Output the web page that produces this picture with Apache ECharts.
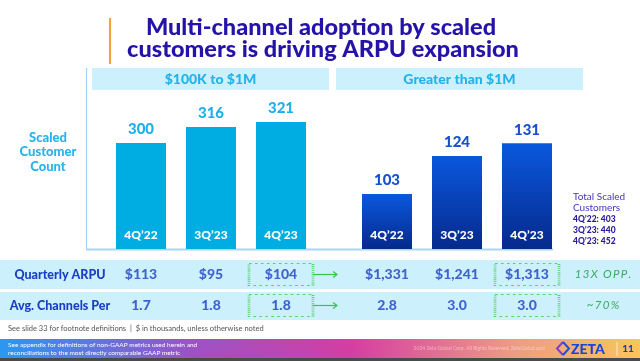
<!DOCTYPE html>
<html><head><meta charset="utf-8">
<script src="https://cdn.jsdelivr.net/npm/echarts@6/dist/echarts.min.js"></script>
<style>html,body{margin:0;padding:0;background:#fff}#c{width:640px;height:361px}</style>
</head><body><div id="c"></div>
<script>
const quarters = ['4Q’22', '3Q’23', '4Q’23'];
const midCustomers = [300, 316, 321];
const largeCustomers = [103, 124, 131];
const groupTitles = ['$100K to $1M', 'Greater than $1M'];
const tableRows = ['Quarterly ARPU', 'Avg. Channels Per'];
const midArpu = [113, 95, 104];
const largeArpu = [1331, 1241, 1313];
const midChannels = [1.7, 1.8, 1.8];
const largeChannels = [2.8, 3.0, 3.0];
const totalScaled = [403, 440, 452];
const rowNotes = ['13X OPP.', '~70%'];

const FONT = 'Lato';
const LIGHT = '#00ade2';
const DARK = '#1a3fc4';
const GREEN = '#35c845';

const chart = echarts.init(document.getElementById('c'), null, {renderer: 'canvas'});

function money(v) { return '$' + v.toLocaleString('en-US'); }
function spaced(s) { return s.split('').join('\u2009'); }

function tableSeries(gridIdx, arpu, channels) {
  const mk = (vals, row, fmt) => vals.map((v, i) => ({
    name: fmt(v),
    value: [quarters[i], row],
    symbol: i === vals.length - 1 ? 'rect' : 'circle',
    symbolSize: i === vals.length - 1 ? [64, 22] : 1,
    itemStyle: i === vals.length - 1
      ? {color: 'rgba(0,0,0,0)', borderColor: GREEN, borderWidth: 1.6, borderType: [1.5, 2]}
      : {color: 'rgba(0,0,0,0)'}
  }));
  return {
    type: 'scatter', xAxisIndex: gridIdx, yAxisIndex: gridIdx, silent: true,
    data: mk(arpu, tableRows[0], money).concat(mk(channels, tableRows[1], v => v.toFixed(1))),
    label: {show: true, position: 'inside', formatter: '{b}', color: DARK,
            fontFamily: FONT, fontWeight: 900, fontSize: 14}
  };
}

const barXAxis = (gi) => ({
  type: 'category', gridIndex: gi, data: quarters, z: 10,
  axisLine: {show: false}, axisTick: {show: false},
  axisLabel: {inside: true, margin: 8, color: '#fff', fontFamily: FONT, fontWeight: 900, fontSize: 12}
});

const option = {
  animation: false,
  backgroundColor: '#ffffff',
  grid: [
    {left: 106, width: 210, top: 90, height: 159},
    {left: 352, width: 210, top: 90, height: 159},
    {left: 106, width: 210, top: 259, height: 62},
    {left: 352, width: 210, top: 259, height: 62}
  ],
  xAxis: [
    barXAxis(0), barXAxis(1),
    {type: 'category', gridIndex: 2, data: quarters, show: false},
    {type: 'category', gridIndex: 3, data: quarters, show: false}
  ],
  yAxis: [
    {type: 'value', gridIndex: 0, min: 194, max: 353, show: false},
    {type: 'value', gridIndex: 1, min: 72.5, max: 160.5, show: false},
    {type: 'category', gridIndex: 2, data: tableRows, inverse: true,
     axisLine: {show: false}, axisTick: {show: false}, splitLine: {show: false},
     axisLabel: {margin: 46, align: 'center', color: DARK, fontFamily: FONT, fontWeight: 900, fontSize: 12.5}},
    {type: 'category', gridIndex: 3, data: tableRows, inverse: true, show: false}
  ],
  series: [
    {type: 'bar', xAxisIndex: 0, yAxisIndex: 0, data: midCustomers, barWidth: 50,
     itemStyle: {color: LIGHT},
     label: {show: true, position: 'top', distance: 6, color: '#1eb0ea', fontFamily: FONT, fontWeight: 900, fontSize: 15}},
    {type: 'bar', xAxisIndex: 1, yAxisIndex: 1, data: largeCustomers, barWidth: 50,
     itemStyle: {color: new echarts.graphic.LinearGradient(0, 0, 0, 1, [
       {offset: 0, color: '#0a58de'}, {offset: 1, color: '#06298c'}])},
     label: {show: true, position: 'top', distance: 6, color: '#1650d0', fontFamily: FONT, fontWeight: 900, fontSize: 15}},
    tableSeries(2, midArpu, midChannels),
    tableSeries(3, largeArpu, largeChannels)
  ]
};
chart.setOption(option);

const g = [];
g.push({type: 'rect', shape: {x: 0, y: 260, width: 640, height: 29}, style: {fill: '#cdf0fd'}, z: -10});
g.push({type: 'rect', shape: {x: 0, y: 292, width: 640, height: 28}, style: {fill: '#cdf0fd'}, z: -10});
g.push({type: 'line', shape: {x1: 110, y1: 18, x2: 110, y2: 64}, style: {stroke: '#f5a030', lineWidth: 2}});
g.push({type: 'text', x: 321, y: 27, style: {text: 'Multi-channel adoption by scaled', fill: '#2512a8',
  font: '900 23.5px ' + FONT, textAlign: 'center', textVerticalAlign: 'middle'}});
g.push({type: 'text', x: 323, y: 49, style: {text: 'customers is driving ARPU expansion', fill: '#2512a8',
  font: '900 23.5px ' + FONT, textAlign: 'center', textVerticalAlign: 'middle'}});
const hdr = [[92, 237], [336, 247]];
groupTitles.forEach((t, i) => {
  g.push({type: 'rect', shape: {x: hdr[i][0], y: 68, width: hdr[i][1], height: 22}, style: {fill: '#cdf0fd'}, z: -5});
  g.push({type: 'text', x: hdr[i][0] + hdr[i][1] / 2, y: 79, style: {text: t, fill: '#22b2ec',
    font: '900 14px ' + FONT, textAlign: 'center', textVerticalAlign: 'middle'}});
});
g.push({type: 'line', shape: {x1: 86.5, y1: 68, x2: 86.5, y2: 249}, style: {stroke: '#a9cdf7', lineWidth: 1.2}});
g.push({type: 'line', shape: {x1: 86, y1: 249.5, x2: 553, y2: 249.5}, style: {stroke: '#a9d3f7', lineWidth: 2}});
g.push({type: 'text', x: 48, y: 152, style: {text: 'Scaled\nCustomer\nCount', fill: '#29b3ec',
  font: '900 13px ' + FONT, lineHeight: 14.5, textAlign: 'center', textVerticalAlign: 'middle'}});
g.push({type: 'text', x: 573, y: 202, style: {text: 'Total Scaled\nCustomers', fill: '#4534bb',
  font: '10px ' + FONT, lineHeight: 11, textAlign: 'left', textVerticalAlign: 'middle'}});
g.push({type: 'text', x: 573, y: 230, style: {
  text: quarters.map((q, i) => q + ': ' + totalScaled[i]).join('\n'), fill: '#2a1a9a',
  font: '900 8.5px ' + FONT, lineHeight: 11, textAlign: 'left', textVerticalAlign: 'middle'}});
[0, 1].forEach(r => {
  const p = chart.convertToPixel({xAxisIndex: 2, yAxisIndex: 2}, [quarters[2], tableRows[r]]);
  const q = chart.convertToPixel({xAxisIndex: 3, yAxisIndex: 3}, [quarters[0], tableRows[r]]);
  const x1 = p[0] + 32, x2 = q[0] - 50, y = p[1];
  g.push({type: 'line', shape: {x1: x1, y1: y, x2: x2, y2: y}, style: {stroke: GREEN, lineWidth: 1.2}});
  g.push({type: 'polyline', shape: {points: [[x2 - 4, y - 3], [x2, y], [x2 - 4, y + 3]]}, style: {stroke: GREEN, lineWidth: 1.2, fill: null}});
  const n = chart.convertToPixel({xAxisIndex: 3, yAxisIndex: 3}, [quarters[2], tableRows[r]]);
  g.push({type: 'text', x: n[0] + 76, y: y, style: {text: spaced(rowNotes[r]), fill: '#3aa860',
    font: 'italic 11.5px ' + FONT, textAlign: 'center', textVerticalAlign: 'middle'}});
});
g.push({type: 'text', x: 8, y: 329, style: {text: 'See slide 33 for footnote definitions  |  $ in thousands, unless otherwise noted',
  fill: '#555', font: '7.5px ' + FONT, textVerticalAlign: 'middle'}});
g.push({type: 'rect', shape: {x: 0, y: 339, width: 640, height: 19}, style: {fill: new echarts.graphic.LinearGradient(0, 0, 1, 0, [
  {offset: 0, color: '#2a98f2'}, {offset: 0.3, color: '#9b52c6'}, {offset: 0.55, color: '#d53ea2'},
  {offset: 0.8, color: '#ee9a86'}, {offset: 1, color: '#f8c65a'}])}});
g.push({type: 'rect', shape: {x: 0, y: 358, width: 640, height: 3}, style: {fill: '#4a4a4a'}});
g.push({type: 'text', x: 8, y: 348.5, style: {text: 'See appendix for definitions of non-GAAP metrics used herein and\nreconciliations to the most directly comparable GAAP metric',
  fill: '#fff', font: '6.5px ' + FONT, lineHeight: 8, textVerticalAlign: 'middle'}});
g.push({type: 'text', x: 545, y: 348.5, style: {text: '2024 Zeta Global Corp. All Rights Reserved. ZetaGlobal.com',
  fill: 'rgba(255,255,255,0.45)', font: '5px ' + FONT, textAlign: 'right', textVerticalAlign: 'middle'}});
g.push({type: 'polyline', shape: {points: [[563, 342], [557, 348.5], [563, 355]]}, style: {stroke: '#7a3fd0', lineWidth: 2, fill: null}});
g.push({type: 'polyline', shape: {points: [[563, 342], [569, 348.5], [563, 355]]}, style: {stroke: '#1a4fe0', lineWidth: 2, fill: null}});
g.push({type: 'text', x: 571, y: 349, style: {text: 'ZETA', fill: '#1846d6', font: '900 14px ' + FONT, textVerticalAlign: 'middle'}});
g.push({type: 'line', shape: {x1: 617, y1: 342, x2: 617, y2: 356}, style: {stroke: 'rgba(255,255,255,0.7)', lineWidth: 1}});
g.push({type: 'text', x: 628, y: 349, style: {text: '11', fill: '#1a3fc4', font: '900 10px ' + FONT, textAlign: 'center', textVerticalAlign: 'middle'}});

chart.setOption({graphic: {elements: g}});
</script></body></html>
